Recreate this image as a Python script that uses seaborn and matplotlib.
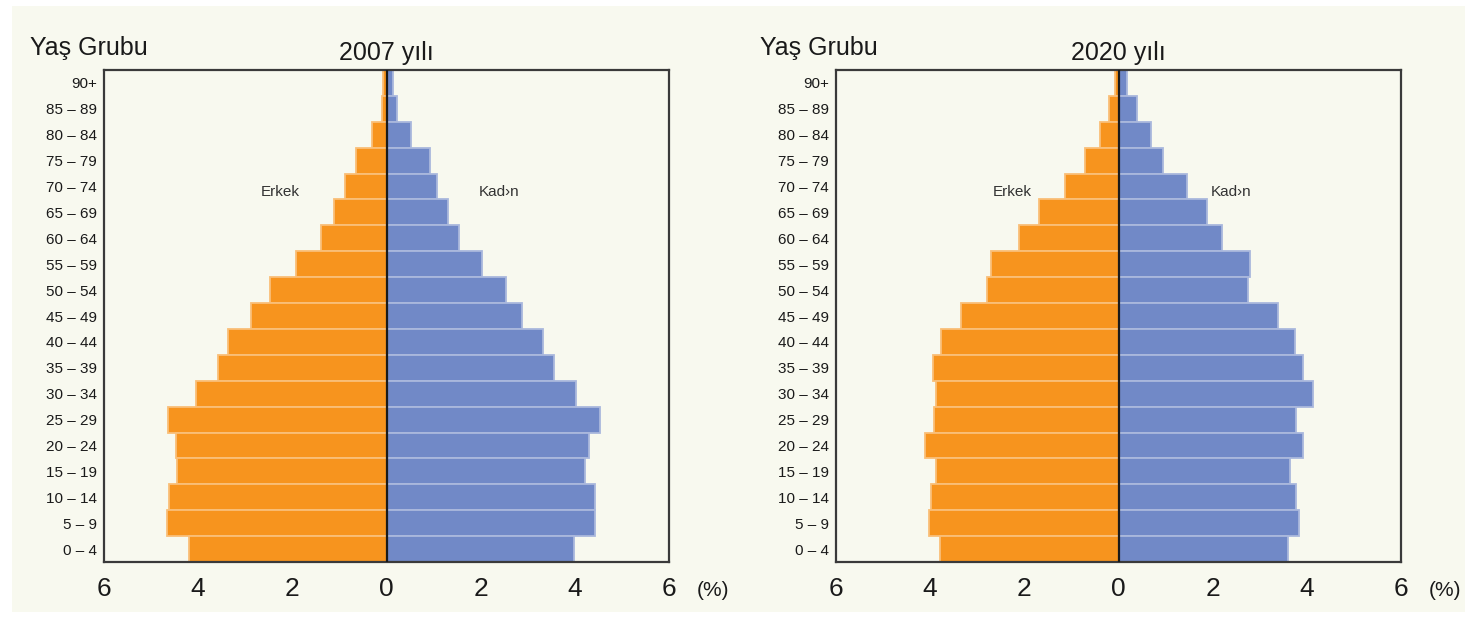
import pandas as pd
import matplotlib.pyplot as plt
import matplotlib.colors as mcolors
from matplotlib.patches import Rectangle
import seaborn as sns

#%% data (values in %)
age_groups = ["0 – 4", "5 – 9", "10 – 14", "15 – 19", "20 – 24", "25 – 29", "30 – 34",
              "35 – 39", "40 – 44", "45 – 49", "50 – 54", "55 – 59", "60 – 64",
              "65 – 69", "70 – 74", "75 – 79", "80 – 84", "85 – 89", "90+"]
male_2007 = [4.19, 4.67, 4.62, 4.46, 4.47, 4.64, 4.05, 3.58, 3.36, 2.87,
             2.48, 1.93, 1.39, 1.11, 0.88, 0.65, 0.30, 0.10, 0.08]
female_2007 = [3.99, 4.42, 4.42, 4.22, 4.30, 4.54, 4.03, 3.55, 3.32, 2.88,
               2.53, 2.03, 1.55, 1.31, 1.08, 0.93, 0.53, 0.22, 0.14]
male_2020 = [3.80, 4.02, 3.99, 3.87, 4.11, 3.91, 3.88, 3.93, 3.77, 3.34,
             2.79, 2.71, 2.11, 1.69, 1.14, 0.71, 0.39, 0.20, 0.08]
female_2020 = [3.60, 3.84, 3.77, 3.64, 3.91, 3.77, 4.14, 3.91, 3.74, 3.39,
               2.76, 2.80, 2.20, 1.88, 1.46, 0.94, 0.68, 0.39, 0.19]
years = ["2007 yılı", "2020 yılı"]
sexes = ["Erkek", "Kad›n"]
x_ticks = [-6, -4, -2, 0, 2, 4, 6]

orange = "#F7941E"
blue = "#7189C7"
cream = "#F8F9EF"

sns.set_style("white")
plt.rcParams["font.family"] = ["Liberation Sans", "DejaVu Sans"]


def make_frame(male, female):
    rows = []
    for a, m, f in zip(age_groups, male, female):
        rows.append({"age": a, "sex": sexes[0], "value": -m})
        rows.append({"age": a, "sex": sexes[1], "value": f})
    return pd.DataFrame(rows)


def lighter(c, amt=0.4):
    r, g, b = mcolors.to_rgb(c)
    return (r + (1 - r) * amt, g + (1 - g) * amt, b + (1 - b) * amt)


fig = plt.figure(figsize=(14.74, 6.22), dpi=100)
fig.patch.set_facecolor("white")
fig.patches.append(Rectangle((12 / 1474, 10 / 622), 1453 / 1474, 606 / 622,
                             transform=fig.transFigure, facecolor=cream,
                             edgecolor="none", zorder=-10))

frames = [make_frame(male_2007, female_2007), make_frame(male_2020, female_2020)]
lefts = [104 / 1474, 836 / 1474]
ylab_x = [30 / 1474, 760 / 1474]

for i, (df, title) in enumerate(zip(frames, years)):
    ax = fig.add_axes([lefts[i], 60 / 622, 565 / 1474, 492 / 622])
    ax.set_facecolor(cream)
    sns.barplot(data=df, x="value", y="age", hue="sex", order=age_groups[::-1],
                hue_order=sexes, palette=[orange, blue], saturation=1, dodge=False,
                width=1.0, orient="h", errorbar=None, legend=False, ax=ax)
    for p in ax.patches:
        p.set_edgecolor(lighter(p.get_facecolor()))
        p.set_linewidth(1.3)
    ax.axvline(0, color="#1a1a1a", lw=1.6, zorder=5)
    ax.set_xlim(-6, 6)
    ax.set_ylim(len(age_groups) - 0.5, -0.5)
    ax.set_xticks(x_ticks)
    ax.set_xticklabels([str(abs(t)) for t in x_ticks], fontsize=19)
    for lab in ax.get_yticklabels():
        lab.set_fontsize(11)
    ax.tick_params(axis="x", direction="out", length=7, width=1.5, colors="#333333",
                   labelcolor="#1a1a1a", pad=4)
    ax.tick_params(axis="y", length=0, pad=5, labelcolor="#1a1a1a")
    ax.set_xlabel("")
    ax.set_ylabel("")
    for s in ax.spines.values():
        s.set_visible(True)
        s.set_color("#3a3a3a")
        s.set_linewidth(1.6)
    ax.text(0.5, 1.02, title, transform=ax.transAxes, ha="center", va="baseline",
            fontsize=18, color="#1a1a1a")
    ax.text(1.077, -0.057, "(%)", transform=ax.transAxes, ha="center", va="center",
            fontsize=15, color="#1a1a1a")
    ax.text(-2.25, 4.2, sexes[0], ha="center", va="center", fontsize=11, color="#333333")
    ax.text(2.4, 4.2, sexes[1], ha="center", va="center", fontsize=11, color="#333333")
    fig.text(ylab_x[i], 1 - 55 / 622, "Yaş Grubu", ha="left", va="baseline",
             fontsize=18, color="#1a1a1a")

fig.savefig("out.png", dpi=100, facecolor=fig.get_facecolor())
